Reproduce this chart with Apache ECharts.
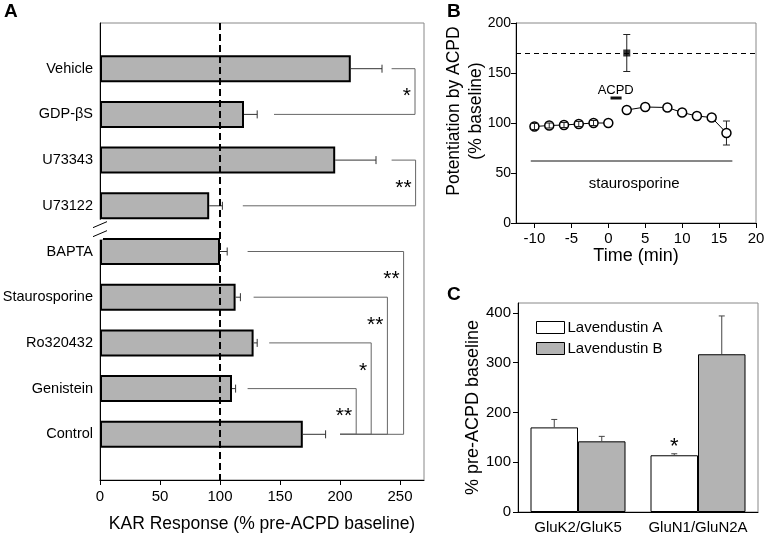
<!DOCTYPE html>
<html><head><meta charset="utf-8">
<script src="https://cdn.jsdelivr.net/npm/echarts@6/dist/echarts.min.js"></script>
<style>html,body{margin:0;padding:0;background:#fff}#c{width:765px;height:535px}</style>
</head><body><div id="c"></div>
<script>
// ---------- Panel A data ----------
const catA = ['Vehicle', 'GDP-βS', 'U73343', 'U73122', 'BAPTA', 'Staurosporine', 'Ro320432', 'Genistein', 'Control'];
const valA = [209, 120, 196, 91, 100, 113, 128, 110, 169];
const errA = [26, 11, 34, 11, 6, 4, 3, 3, 19];
const ticksA = [0, 50, 100, 150, 200, 250];
const refLineA = 100;
// significance brackets (x in data units)
const brTop = ['Vehicle', 'U73343', 'BAPTA', 'Staurosporine', 'Ro320432', 'Genistein'];
const brBottom = ['GDP-βS', 'U73122', 'Control', 'Control', 'Control', 'Control'];
const brX = [262.5, 263, 253, 239.5, 226, 213.5];
const brStartTop = [243, 243, 123, 128, 141, 123];
const brStartBottom = [145, 119, 200, 200, 200, 200];
const brSig = ['*', '**', '**', '**', '*', '**'];

// ---------- Panel B data ----------
const timeB1 = [-10, -8, -6, -4, -2, 0];
const valB1 = [96.5, 97.5, 98, 99, 100, 100];
const errB1 = [3, 2.5, 2.5, 2.5, 2.5, 0];
const timeB2 = [2.5, 5, 8, 10, 12, 14, 16];
const valB2 = [113, 116, 115.5, 110.5, 107, 105.5, 90];
const errB2 = [0, 0, 0, 0, 0, 0, 12];
const ctrlB = [2.5, 170, 18.5]; // time, value, error
const refLineB = 170;
const ticksBx = [-10, -5, 0, 5, 10, 15, 20];
const acpdBar = [0.3, 1.8, 125];
const acpdText = ['ACPD', 1.0, 133];
const stauroBar = [-10.5, 16.8, 62];
const stauroText = ['staurosporine', 3.5, 39];

// ---------- Panel C data ----------
const catC = ['GluK2/GluK5', 'GluN1/GluN2A'];
const lavA = [170, 114];
const errLavA = [16, 3];
const lavB = [142, 317];
const errLavB = [10, 77];
const sigC = ['', '*'];
const ticksC = [0, 100, 200, 300, 400];

// ---------- styles ----------
const FONT = "'Liberation Sans', Arial, Helvetica, sans-serif";
const GRAY = '#b3b3b3';
const catYA = [''].concat(catA, ['']);
const idxA = n => catYA.indexOf(n);

const chart = echarts.init(document.getElementById('c'), null, {renderer: 'canvas'});

function errARender(params, api) {
  const v = api.value(0), e = api.value(1), i = api.value(2);
  const p0 = api.coord([v, i]), p1 = api.coord([v + e, i]);
  const st = {stroke: '#333', lineWidth: 1};
  return {type: 'group', children: [
    {type: 'line', shape: {x1: p0[0], y1: p0[1], x2: p1[0], y2: p1[1]}, style: st},
    {type: 'line', shape: {x1: p1[0], y1: p1[1] - 4, x2: p1[0], y2: p1[1] + 4}, style: st}
  ]};
}

function bracketRender(params, api) {
  const t = api.value(0), b = api.value(1), xv = api.value(2), st = api.value(3), sb = api.value(4);
  const a = api.coord([st, t]), c = api.coord([xv, t]), d = api.coord([xv, b]), e = api.coord([sb, b]);
  const n = api.coord([xv, t + 1]);
  const my = (c[1] + n[1]) / 2;
  return {type: 'group', children: [
    {type: 'polyline', shape: {points: [a, c, d, e]}, style: {stroke: '#666', lineWidth: 1, fill: null}},
    {type: 'text', x: c[0] - 4, y: my + 5, style: {text: brSig[params.dataIndex], fill: '#000', fontSize: 21, fontFamily: FONT, align: 'right', verticalAlign: 'middle'}}
  ]};
}

function errBRender(params, api) {
  const t = api.value(0), v = api.value(1), e = api.value(2);
  if (!e) return null;
  const p0 = api.coord([t, v - e]), p1 = api.coord([t, v + e]);
  const st = {stroke: '#222', lineWidth: 1};
  return {type: 'group', children: [
    {type: 'line', shape: {x1: p0[0], y1: p0[1], x2: p1[0], y2: p1[1]}, style: st},
    {type: 'line', shape: {x1: p0[0] - 3.5, y1: p0[1], x2: p0[0] + 3.5, y2: p0[1]}, style: st},
    {type: 'line', shape: {x1: p1[0] - 3.5, y1: p1[1], x2: p1[0] + 3.5, y2: p1[1]}, style: st}
  ]};
}

function annoBarRender(params, api) {
  const x1 = api.value(0), x2 = api.value(1), y = api.value(2);
  const p0 = api.coord([x1, y]), p1 = api.coord([x2, y]);
  const w = params.dataIndex === 0 ? 3 : 1;
  return {type: 'line', shape: {x1: p0[0], y1: p0[1], x2: p1[0], y2: p1[1]}, style: {stroke: '#111', lineWidth: w}};
}

function annoTextRender(params, api) {
  const p = api.coord([api.value(1), api.value(2)]);
  const txt = [acpdText, stauroText][params.dataIndex][0];
  return {type: 'text', x: p[0], y: p[1], style: {text: txt, fill: '#000', fontSize: params.dataIndex === 0 ? 13 : 15, fontFamily: FONT, align: 'center', verticalAlign: 'middle'}};
}

const BW = 47.5;
function errCRender(sign) {
  return function (params, api) {
    const i = api.value(0), v = api.value(1), e = api.value(2);
    const p0 = api.coord([i, v]), p1 = api.coord([i, v + e]);
    const x = p0[0] + sign * BW / 2;
    const st = {stroke: '#444', lineWidth: 1};
    return {type: 'group', children: [
      {type: 'line', shape: {x1: x, y1: p0[1], x2: x, y2: p1[1]}, style: st},
      {type: 'line', shape: {x1: x - 3, y1: p1[1], x2: x + 3, y2: p1[1]}, style: st}
    ]};
  };
}

const axisLabelBase = {color: '#000', fontSize: 15, fontFamily: FONT};
const nameStyle = {color: '#000', fontSize: 18, fontFamily: FONT};
const gridBase = {show: true, borderColor: '#888', borderWidth: 1, backgroundColor: 'transparent', containLabel: false, outerBoundsMode: 'none'};

const option = {
  animation: false,
  backgroundColor: '#fff',
  textStyle: {fontFamily: FONT},
  grid: [
    Object.assign({left: 100, top: 23, width: 324, height: 457}, gridBase),
    Object.assign({left: 516, top: 23, width: 240, height: 200}, gridBase),
    Object.assign({left: 518, top: 303, width: 240, height: 209}, gridBase)
  ],
  xAxis: [
    {gridIndex: 0, type: 'value', min: 0, max: 270,
     axisLine: {show: true, onZero: false, lineStyle: {color: '#000', width: 1}},
     axisTick: {show: true, length: 5, lineStyle: {color: '#000'}, customValues: ticksA},
     axisLabel: Object.assign({margin: 9, customValues: ticksA}, axisLabelBase),
     splitLine: {show: false},
     name: 'KAR Response (% pre-ACPD baseline)', nameLocation: 'middle', nameGap: 35, nameMoveOverlap: false,
     nameTextStyle: Object.assign({}, nameStyle, {fontSize: 17.5})},
    {gridIndex: 1, type: 'value', min: -12.5, max: 20,
     axisLine: {show: true, onZero: false, lineStyle: {color: '#000', width: 1}},
     axisTick: {show: true, length: 5, lineStyle: {color: '#000'}, customValues: ticksBx},
     axisLabel: Object.assign({margin: 8, customValues: ticksBx}, axisLabelBase),
     splitLine: {show: false},
     name: 'Time (min)', nameLocation: 'middle', nameGap: 24, nameMoveOverlap: false, nameTextStyle: nameStyle},
    {gridIndex: 2, type: 'category', data: catC,
     axisLine: {show: true, onZero: false, lineStyle: {color: '#000', width: 1}},
     axisTick: {show: false},
     axisLabel: Object.assign({margin: 8, interval: 0}, axisLabelBase)}
  ],
  yAxis: [
    {gridIndex: 0, type: 'category', data: catYA, inverse: true, boundaryGap: false,
     axisLine: {show: true, onZero: false, lineStyle: {color: '#000', width: 1}},
     axisTick: {show: false},
     axisLabel: Object.assign({}, axisLabelBase, {margin: 7, interval: 0, fontSize: 14.5})},
    {gridIndex: 1, type: 'value', min: 0, max: 200, interval: 50,
     axisLine: {show: true, onZero: false, lineStyle: {color: '#000', width: 1}},
     axisTick: {show: true, length: 5, lineStyle: {color: '#000'}},
     axisLabel: Object.assign({}, axisLabelBase, {margin: 5, fontSize: 14}),
     splitLine: {show: false},
     name: 'Potentiation by ACPD\n(% baseline)', nameLocation: 'middle', nameGap: 29, nameRotate: 90, nameMoveOverlap: false,
     nameTextStyle: Object.assign({}, nameStyle, {fontSize: 17.5, lineHeight: 22, padding: [0, 0, 0, 24]})},
    {gridIndex: 2, type: 'value', min: 0, max: 420,
     axisLine: {show: true, onZero: false, lineStyle: {color: '#000', width: 1}},
     axisTick: {show: true, length: 5, lineStyle: {color: '#000'}, customValues: ticksC},
     axisLabel: Object.assign({margin: 7, customValues: ticksC}, axisLabelBase),
     splitLine: {show: false},
     name: '% pre-ACPD baseline', nameLocation: 'middle', nameGap: 36, nameRotate: 90, nameMoveOverlap: false, nameTextStyle: nameStyle}
  ],
  legend: {
    left: 536, top: 320, padding: 0, orient: 'vertical', itemWidth: 28, itemHeight: 12, itemGap: 6,
    icon: 'rect', data: ['Lavendustin A', 'Lavendustin B'],
    textStyle: {color: '#000', fontSize: 15, fontFamily: FONT, padding: [0, 0, 0, -2]},
    itemStyle: {borderColor: '#000', borderWidth: 1}
  },
  series: [
    // Panel A bars
    {type: 'bar', xAxisIndex: 0, yAxisIndex: 0, barWidth: 27,
     data: ['-'].concat(valA, ['-']),
     itemStyle: {color: GRAY, borderColor: '#000', borderWidth: 2},
     markLine: {silent: true, symbol: 'none', label: {show: false},
       lineStyle: {color: '#000', type: [7, 4], width: 2},
       data: [{xAxis: refLineA}]}},
    {type: 'custom', xAxisIndex: 0, yAxisIndex: 0, renderItem: errARender, z: 3,
     encode: {x: 0, y: 2},
     data: catA.map((c, i) => [valA[i], errA[i], idxA(c)])},
    {type: 'custom', xAxisIndex: 0, yAxisIndex: 0, renderItem: bracketRender, z: 3,
     encode: {x: 2, y: 0},
     data: brTop.map((t, i) => [idxA(t), idxA(brBottom[i]), brX[i], brStartTop[i], brStartBottom[i]])},
    // Panel B
    {type: 'custom', xAxisIndex: 1, yAxisIndex: 1, renderItem: errBRender, z: 1,
     encode: {x: 0, y: 1},
     data: timeB2.map((t, i) => [t, valB2[i], errB2[i]]).concat([ctrlB])},
    {type: 'line', xAxisIndex: 1, yAxisIndex: 1, z: 3,
     data: timeB1.map((t, i) => [t, valB1[i]]),
     symbol: 'circle', symbolSize: 9,
     itemStyle: {color: '#fff', borderColor: '#000', borderWidth: 1.5},
     lineStyle: {color: '#000', width: 1}},
    {type: 'line', xAxisIndex: 1, yAxisIndex: 1, z: 3,
     data: timeB2.map((t, i) => [t, valB2[i]]),
     symbol: 'circle', symbolSize: 9,
     itemStyle: {color: '#fff', borderColor: '#000', borderWidth: 1.5},
     lineStyle: {color: '#000', width: 1}},
    {type: 'custom', xAxisIndex: 1, yAxisIndex: 1, renderItem: errBRender, z: 5,
     encode: {x: 0, y: 1},
     data: timeB1.map((t, i) => [t, valB1[i], errB1[i]])},
    {type: 'scatter', xAxisIndex: 1, yAxisIndex: 1, z: 4,
     data: [[ctrlB[0], ctrlB[1]]], symbol: 'rect', symbolSize: 7,
     itemStyle: {color: '#000'},
     markLine: {silent: true, symbol: 'none', label: {show: false},
       lineStyle: {color: '#000', type: [5, 4], width: 1},
       data: [{yAxis: refLineB}]}},
    {type: 'custom', xAxisIndex: 1, yAxisIndex: 1, renderItem: annoBarRender, z: 3,
     encode: {x: [0, 1], y: 2},
     data: [acpdBar, stauroBar]},
    {type: 'custom', xAxisIndex: 1, yAxisIndex: 1, renderItem: annoTextRender, z: 3,
     encode: {x: 1, y: 2},
     data: [acpdText, stauroText]},
    // Panel C
    {name: 'Lavendustin A', type: 'bar', xAxisIndex: 2, yAxisIndex: 2, barWidth: BW, barGap: '0%',
     itemStyle: {color: '#fff', borderColor: '#000', borderWidth: 1},
     data: lavA.map((v, i) => ({value: v,
       label: {show: !!sigC[i], position: 'top', distance: 2, offset: [0, 5], formatter: sigC[i], color: '#000', fontSize: 22, fontFamily: FONT}}))},
    {name: 'Lavendustin B', type: 'bar', xAxisIndex: 2, yAxisIndex: 2, barWidth: BW, barGap: '0%',
     itemStyle: {color: GRAY, borderColor: '#000', borderWidth: 1},
     data: lavB},
    {type: 'custom', xAxisIndex: 2, yAxisIndex: 2, renderItem: errCRender(-1), z: 3,
     encode: {x: 0, y: 1},
     data: lavA.map((v, i) => [i, v, errLavA[i]])},
    {type: 'custom', xAxisIndex: 2, yAxisIndex: 2, renderItem: errCRender(1), z: 3,
     encode: {x: 0, y: 1},
     data: lavB.map((v, i) => [i, v, errLavB[i]])}
  ]
};
chart.setOption(option);

// axis break on panel A's category axis + panel letters
const pU = chart.convertToPixel({xAxisIndex: 0, yAxisIndex: 0}, [0, idxA('U73122')]);
const pB = chart.convertToPixel({xAxisIndex: 0, yAxisIndex: 0}, [0, idxA('BAPTA')]);
const bx = pU[0], by = (pU[1] + pB[1]) / 2;
chart.setOption({
  graphic: [
    {type: 'rect', shape: {x: bx - 3, y: by - 9, width: 6, height: 20}, style: {fill: '#fff'}, z: 100},
    {type: 'line', shape: {x1: bx - 7, y1: by - 1, x2: bx + 7, y2: by - 7}, style: {stroke: '#000', lineWidth: 1}, z: 101},
    {type: 'line', shape: {x1: bx - 7, y1: by + 8, x2: bx + 7, y2: by + 2}, style: {stroke: '#000', lineWidth: 1}, z: 101},
    {type: 'text', left: 4, top: 2, style: {text: 'A', fontSize: 19, fontWeight: 'bold', fontFamily: FONT, fill: '#000'}},
    {type: 'text', left: 447, top: 2, style: {text: 'B', fontSize: 19, fontWeight: 'bold', fontFamily: FONT, fill: '#000'}},
    {type: 'text', left: 447, top: 285, style: {text: 'C', fontSize: 19, fontWeight: 'bold', fontFamily: FONT, fill: '#000'}}
  ]
});
</script></body></html>
